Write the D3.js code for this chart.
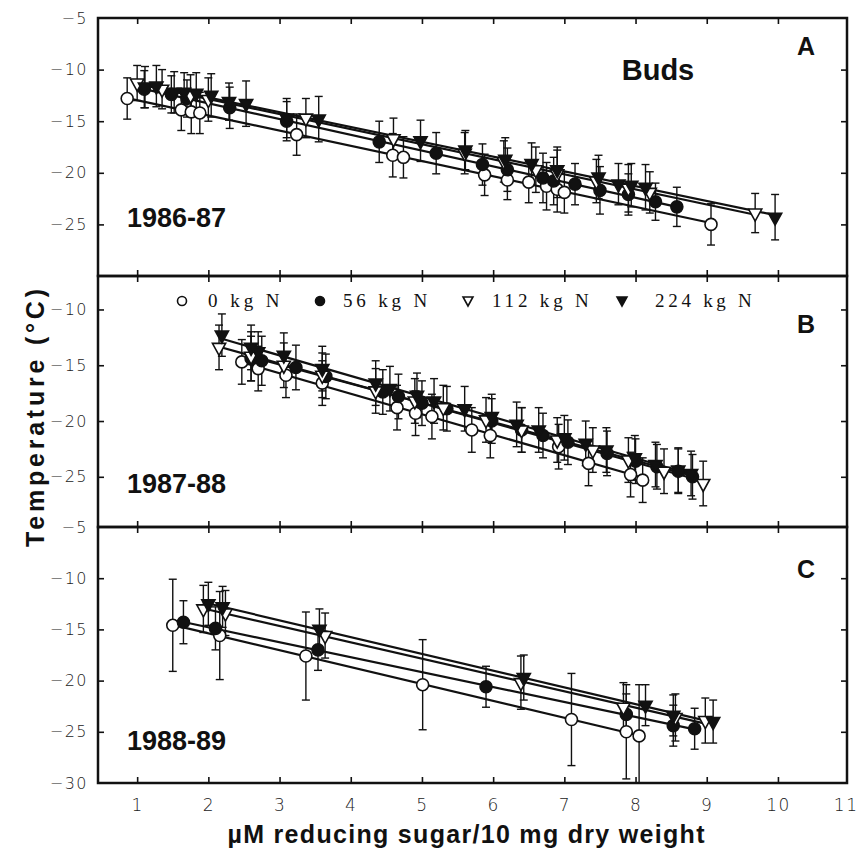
<!DOCTYPE html>
<html>
<head>
<meta charset="utf-8">
<script src="https://cdn.jsdelivr.net/npm/d3@7"></script>
<style>
  body { margin: 0; background: #fff; }
  .tick text { font-family: "DejaVu Sans", sans-serif; font-weight: 300; font-size: 16px; letter-spacing: 1.5px; fill: #222; }
  .tick line { stroke: #111; stroke-width: 1.6; }
  .bold { font-family: "Liberation Sans", Arial, sans-serif; font-weight: bold; fill: #111; }
</style>
</head>
<body>
<svg id="chart" width="860" height="855"></svg>
<script>
"use strict";

// [sugar, temperature, error]
const series = ['0 kg N', '56 kg N', '112 kg N', '224 kg N'];
const xTicks = [1, 2, 3, 4, 5, 6, 7, 8, 9, 10, 11];

// A: 1986-87
const a0 = [[0.86, -12.8, 2.0], [1.62, -13.9, 2.0], [1.76, -14.1, 2.1], [1.88, -14.2, 2.0], [3.24, -16.3, 2.0],
  [4.59, -18.3, 2.1], [4.74, -18.5, 2.0], [5.88, -20.2, 2.0], [6.2, -20.7, 1.9], [6.5, -20.9, 2.0],
  [6.75, -21.3, 2.3], [6.9, -21.6, 2.2], [7.0, -21.9, 2.0], [9.06, -25.0, 2.0]];
const a56 = [[1.1, -11.9, 1.8], [1.48, -12.4, 1.8], [1.7, -12.8, 1.8], [2.3, -13.7, 2.0], [3.1, -15.0, 1.9],
  [4.4, -17.0, 2.0], [5.2, -18.1, 2.0], [5.85, -19.2, 2.0], [6.2, -19.7, 2.1], [6.7, -20.5, 2.4],
  [6.85, -20.8, 2.3], [7.15, -21.1, 2.0], [7.5, -21.7, 2.3], [7.9, -22.1, 2.0], [8.28, -22.8, 1.8], [8.58, -23.3, 1.9]];
const a112 = [[1.0, -11.3, 1.7], [1.35, -11.9, 1.9], [1.75, -12.5, 2.0], [2.0, -12.9, 2.1], [3.37, -14.7, 1.9],
  [4.6, -16.7, 2.0], [5.6, -18.1, 2.0], [6.15, -18.9, 2.0], [6.6, -19.7, 2.2], [6.9, -20.1, 2.3],
  [7.45, -20.8, 2.1], [7.9, -21.5, 2.3], [8.2, -21.9, 2.0], [9.68, -23.9, 1.9]];
const a224 = [[1.11, -11.7, 2.0], [1.27, -11.6, 2.0], [1.52, -12.2, 2.0], [1.66, -12.2, 1.9], [1.83, -12.3, 2.0],
  [2.04, -12.5, 2.1], [2.29, -13.1, 1.8], [2.53, -13.3, 2.2], [3.1, -14.7, 1.9], [3.55, -14.8, 2.2],
  [4.98, -16.9, 2.0], [5.61, -17.8, 1.9], [6.17, -18.7, 2.1], [6.54, -19.1, 2.0], [6.9, -19.7, 2.2],
  [7.48, -20.4, 2.1], [7.76, -21.1, 2.0], [7.94, -21.2, 2.1], [8.14, -21.4, 2.2], [9.96, -24.3, 2.2]];

// B: 1987-88
const b0 = [[2.47, -14.7, 2.0], [2.7, -15.3, 2.0], [3.09, -15.9, 2.0], [3.6, -16.6, 2.0], [4.65, -18.8, 2.0],
  [4.91, -19.3, 2.0], [5.14, -19.6, 2.0], [5.7, -20.8, 2.0], [5.96, -21.3, 2.0], [6.92, -22.3, 2.0],
  [7.34, -23.8, 2.0], [7.93, -24.8, 2.0], [8.1, -25.3, 2.0]];
const b56 = [[2.6, -14.4, 2.0], [2.75, -14.6, 2.2], [3.23, -15.2, 2.0], [3.65, -16.0, 2.0], [4.45, -17.4, 2.0],
  [4.67, -17.8, 2.0], [5.0, -18.4, 2.0], [5.35, -18.9, 2.0], [5.98, -20.0, 2.0], [6.4, -20.8, 2.0],
  [6.7, -21.3, 2.0], [7.05, -21.9, 2.0], [7.6, -22.9, 2.0], [8.0, -23.6, 2.0], [8.3, -24.1, 2.0],
  [8.6, -24.5, 2.0], [8.8, -25.0, 2.0]];
const b112 = [[2.15, -13.4, 2.0], [2.6, -14.2, 2.2], [3.06, -15.0, 2.0], [3.6, -15.9, 2.0], [4.35, -17.3, 2.0],
  [4.9, -18.2, 2.0], [5.3, -18.8, 2.0], [5.9, -19.9, 2.0], [6.4, -20.8, 2.0], [6.9, -21.7, 2.0],
  [7.4, -22.6, 2.0], [7.9, -23.5, 2.0], [8.4, -24.5, 2.0], [8.95, -25.6, 2.0]];
const b224 = [[2.19, -12.3, 1.9], [2.6, -13.4, 2.0], [2.7, -13.8, 1.8], [3.06, -14.1, 2.0], [3.6, -15.3, 2.0],
  [4.35, -16.6, 2.0], [4.55, -17.1, 2.0], [4.93, -17.7, 2.0], [5.17, -18.2, 2.0], [5.6, -18.9, 2.0],
  [5.98, -19.6, 2.0], [6.33, -20.3, 2.0], [6.64, -20.8, 2.0], [7.0, -21.5, 2.0], [7.3, -22.0, 2.0],
  [7.59, -22.6, 2.0], [7.99, -23.3, 2.0], [8.28, -23.9, 2.0], [8.6, -24.4, 2.0], [8.78, -24.7, 2.0]];

// C: 1988-89
const c0 = [[1.5, -14.6, 4.5], [2.16, -15.6, 4.3], [3.37, -17.6, 4.3], [5.01, -20.4, 4.4], [7.1, -23.8, 4.5],
  [7.87, -25.0, 4.6], [8.05, -25.4, 5.0]];
const c56 = [[1.65, -14.3, 2.1], [2.1, -14.9, 2.1], [3.54, -17.0, 2.0], [5.9, -20.6, 2.0], [7.87, -23.3, 2.0],
  [8.53, -24.4, 2.0], [8.83, -24.7, 2.0]];
const c112 = [[1.93, -13.0, 2.3], [2.24, -13.4, 2.2], [3.64, -15.6, 2.2], [6.39, -20.2, 2.6], [7.83, -22.6, 2.4],
  [8.56, -23.6, 2.3], [8.98, -23.9, 2.2]];
const c224 = [[2.0, -12.5, 2.1], [2.2, -12.8, 2.0], [3.56, -15.0, 2.0], [6.43, -19.7, 2.2], [8.14, -22.4, 2.0],
  [8.53, -23.4, 2.0], [9.09, -24.0, 2.1]];

const panels = [
  { letter: 'A', year: '1986-87', top: 18, bottom: 276, domain: [-30, -5], labels: [-5, -10, -15, -20, -25], data: [a0, a56, a112, a224] },
  { letter: 'B', year: '1987-88', top: 276, bottom: 527, domain: [-29.5, -7], labels: [-10, -15, -20, -25], data: [b0, b56, b112, b224] },
  { letter: 'C', year: '1988-89', top: 527, bottom: 783, domain: [-30, -5], labels: [-5, -10, -15, -20, -25, -30], data: [c0, c56, c112, c224] }
];

const svg = d3.select('#chart');
const left = 98, right = 847;
const x = d3.scaleLinear().domain([0.45, 10.97]).range([left, right]);

// marker shape per series: open/filled circle, open/filled down triangle
function marker(sel, i, size) {
  const filled = i === 1 || i === 3;
  if (i < 2) {
    sel.append('circle').attr('r', size / 2);
  } else {
    const w = size * 1.1, h = size;
    sel.append('path').attr('d', `M${-w / 2},${-h / 3}L${w / 2},${-h / 3}L0,${2 * h / 3}Z`);
  }
  sel.selectAll('circle,path')
    .attr('fill', filled ? '#111' : '#fff')
    .attr('stroke', '#111')
    .attr('stroke-width', 1.6);
}

function fit(pts) {
  const mx = d3.mean(pts, d => d[0]), my = d3.mean(pts, d => d[1]);
  const b = d3.sum(pts, d => (d[0] - mx) * (d[1] - my)) / d3.sum(pts, d => (d[0] - mx) ** 2);
  return [b, my - b * mx];
}

panels.forEach((p, pi) => {
  const y = d3.scaleLinear().domain(p.domain).range([p.bottom, p.top]);
  const g = svg.append('g');

  svg.append('clipPath').attr('id', 'clip' + pi)
    .append('rect').attr('x', left).attr('y', p.top).attr('width', right - left).attr('height', p.bottom - p.top);

  // axes, ticks pointing inward
  const inner = [-5, -10, -15, -20, -25, -30].filter(v => v < p.domain[1] && v > p.domain[0]);
  g.append('g').attr('transform', `translate(${left},0)`)
    .call(d3.axisLeft(y).tickValues(p.labels).tickSize(-6).tickSizeOuter(0).tickPadding(10))
    .call(a => a.select('.domain').remove())
    .call(a => a.selectAll('.tick line').filter(d => inner.indexOf(d) < 0).remove());
  g.append('g').attr('transform', `translate(${right},0)`)
    .call(d3.axisRight(y).tickValues(inner).tickSize(-6).tickFormat(''))
    .call(a => a.select('.domain').remove());
  g.append('g').attr('transform', `translate(0,${p.top})`)
    .call(d3.axisTop(x).tickValues(xTicks.slice(0, 10)).tickSize(-6).tickFormat(''))
    .call(a => a.select('.domain').remove());
  const bx = g.append('g').attr('transform', `translate(0,${p.bottom})`)
    .call(d3.axisBottom(x).tickValues(pi === 2 ? xTicks : xTicks.slice(0, 10)).tickSize(-6).tickPadding(16))
    .call(a => a.select('.domain').remove());
  if (pi < 2) bx.selectAll('text').remove();
  else {
    bx.selectAll('text').style('font-size', '17px');
    // last label sits at the page edge; keep it inside
    bx.selectAll('.tick').filter(d => d > 10).select('text')
      .attr('text-anchor', 'end').attr('x', 858 - x(11));
  }
  bx.selectAll('.tick line').filter(d => d > 10).remove();

  const plot = g.append('g').attr('clip-path', `url(#clip${pi})`);

  // regression lines
  p.data.forEach(pts => {
    const [b, a] = fit(pts);
    const ext = d3.extent(pts, d => d[0]);
    plot.append('line')
      .attr('x1', x(ext[0])).attr('y1', y(a + b * ext[0]))
      .attr('x2', x(ext[1])).attr('y2', y(a + b * ext[1]))
      .attr('stroke', '#111').attr('stroke-width', 2.2);
  });

  // error bars
  p.data.forEach(pts => {
    const eb = plot.append('g').attr('stroke', '#111').attr('stroke-width', 1.4);
    pts.forEach(d => {
      const cx = x(d[0]);
      eb.append('line').attr('x1', cx).attr('x2', cx).attr('y1', y(d[1] + d[2])).attr('y2', y(d[1] - d[2]));
      [d[1] + d[2], d[1] - d[2]].forEach(v => {
        eb.append('line').attr('x1', cx - 4).attr('x2', cx + 4).attr('y1', y(v)).attr('y2', y(v));
      });
    });
  });

  // points
  p.data.forEach((pts, si) => {
    pts.forEach(d => {
      const m = plot.append('g').attr('transform', `translate(${x(d[0])},${y(d[1])})`);
      marker(m, si, 12);
    });
  });

  // frame
  svg.append('rect').attr('x', left).attr('y', p.top).attr('width', right - left).attr('height', p.bottom - p.top)
    .attr('fill', 'none').attr('stroke', '#111').attr('stroke-width', 2.5);

  svg.append('text').attr('class', 'bold').attr('x', 127).attr('y', [227, 493, 750][pi])
    .style('font-size', '27px').text(p.year);
  svg.append('text').attr('class', 'bold').attr('x', 815).attr('text-anchor', 'end')
    .attr('y', [55, 333, 578][pi]).style('font-size', '25px').text(p.letter);
});

svg.append('text').attr('class', 'bold').attr('x', 658).attr('y', 80).attr('text-anchor', 'middle')
  .style('font-size', '29px').text('Buds');

// legend in panel B
const legendX = [182, 320, 468, 622];
const legendTextX = [208, 343, 492, 655];
series.forEach((s, i) => {
  const m = svg.append('g').attr('transform', `translate(${legendX[i]},${i < 2 ? 301 : 300})`);
  marker(m, i, 9);
  svg.append('text').attr('x', legendTextX[i]).attr('y', 307)
    .attr('textLength', s.length * 12.6 - 4).attr('lengthAdjust', 'spacing')
    .style('font-family', '"Liberation Serif", "DejaVu Serif", serif').style('font-size', '19px').style('fill', '#111')
    .text(s);
});

// axis titles
svg.append('text').attr('class', 'bold')
  .attr('transform', 'translate(44,418) rotate(-90)').attr('text-anchor', 'middle')
  .attr('textLength', 258).attr('lengthAdjust', 'spacing')
  .style('font-size', '25px').text('Temperature (°C)');
svg.append('text').attr('class', 'bold')
  .attr('x', 466).attr('y', 843).attr('text-anchor', 'middle')
  .attr('textLength', 477).attr('lengthAdjust', 'spacing')
  .style('font-size', '25px').text('µM reducing sugar/10 mg dry weight');
</script>
</body>
</html>
